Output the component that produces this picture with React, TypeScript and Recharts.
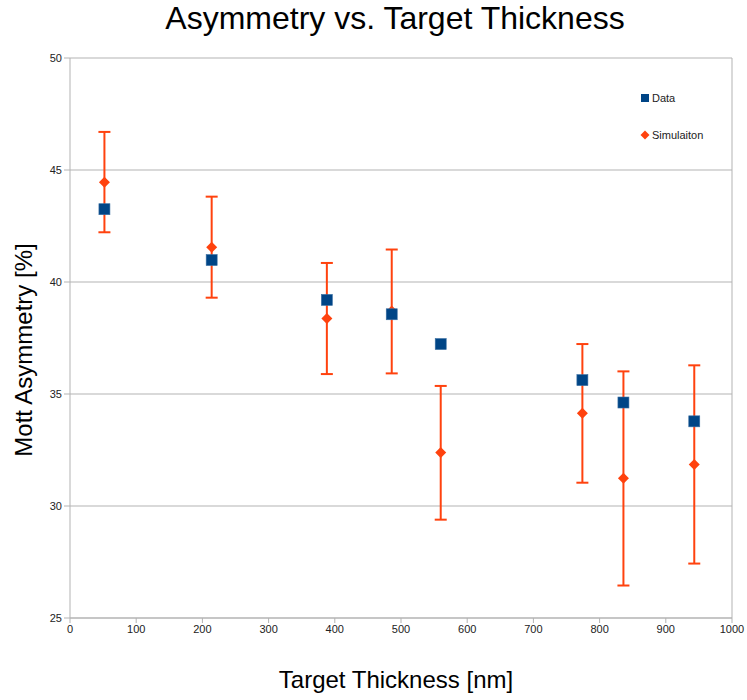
import React from 'react';
import { ScatterChart, Scatter, XAxis, YAxis, CartesianGrid, ErrorBar, ReferenceLine } from 'recharts';

const thickness = [52, 214, 388, 486, 560, 774, 836, 943];
const dataAsym = [43.25, 40.98, 39.2, 38.56, 37.23, 35.62, 34.62, 33.78];
const simAsym = [44.45, 41.55, 38.37, 38.7, 32.39, 34.14, 31.24, 31.85];
const simErrLow = [2.23, 2.25, 2.48, 2.78, 3.0, 3.1, 4.79, 4.42];
const simErrHigh = [2.25, 2.26, 2.48, 2.75, 2.97, 3.09, 4.77, 4.43];
const xTicks = [0, 100, 200, 300, 400, 500, 600, 700, 800, 900, 1000];
const yTicks = [25, 30, 35, 40, 45, 50];

const dataSeries = thickness.map((x, i) => ({ x, y: dataAsym[i] }));
const simSeries = thickness.map((x, i) => ({ x, y: simAsym[i], err: [simErrLow[i], simErrHigh[i]] }));

const BLUE = '#004586';
const ORANGE = '#ff420e';
const FONT = '"Liberation Sans", Arial, sans-serif';

const SquareShape = (props: any) => {
  const { cx, cy } = props;
  const s = 11;
  return <rect x={cx - s / 2} y={cy - s / 2} width={s} height={s} fill={BLUE} stroke="#3a6fa3" strokeWidth={0.6} />;
};

const DiamondShape = (props: any) => {
  const { cx, cy } = props;
  const r = 5.5;
  return <polygon points={`${cx},${cy - r} ${cx + r},${cy} ${cx},${cy + r} ${cx - r},${cy}`} fill={ORANGE} />;
};

const LegendBox = () => (
  <div style={{ position: 'absolute', left: 640, top: 90, fontFamily: FONT, fontSize: 11, color: '#222' }}>
    <div style={{ display: 'flex', alignItems: 'center', height: 16 }}>
      <svg width={10} height={10} style={{ marginRight: 2 }}>
        <rect x={1} y={1} width={8} height={8} fill={BLUE} />
      </svg>
      <span>Data</span>
    </div>
    <div style={{ height: 21 }} />
    <div style={{ display: 'flex', alignItems: 'center', height: 16 }}>
      <svg width={10} height={10} style={{ marginRight: 2 }}>
        <polygon points="5,0.5 9.5,5 5,9.5 0.5,5" fill={ORANGE} />
      </svg>
      <span>Simulaiton</span>
    </div>
  </div>
);

export default function App() {
  return (
    <div style={{ position: 'absolute', left: 0, top: 0, width: 747, height: 700, background: '#fff' }}>
      <ScatterChart width={747} height={700} margin={{ top: 58, right: 15, bottom: 52, left: 0 }}>
        <CartesianGrid vertical={false} stroke="#b3b3b3" />
        <XAxis
          type="number"
          dataKey="x"
          domain={[0, 1000]}
          ticks={xTicks}
          interval={0}
          stroke="#b3b3b3"
          tickSize={5}
          tick={{ fill: '#222', fontSize: 11, fontFamily: FONT }}
          label={{
            content: () => (
              <text x={396} y={688} textAnchor="middle" fontFamily={FONT} fontSize={24} fill="#000">
                Target Thickness [nm]
              </text>
            ),
          }}
        />
        <YAxis
          type="number"
          dataKey="y"
          domain={[25, 50]}
          ticks={yTicks}
          interval={0}
          width={70}
          stroke="#b3b3b3"
          tickSize={6}
          tick={{ fill: '#222', fontSize: 11, fontFamily: FONT }}
          label={{
            content: () => (
              <text x={32} y={350} transform="rotate(-90 32 350)" textAnchor="middle" fontFamily={FONT} fontSize={24} fill="#000">
                Mott Asymmetry [%]
              </text>
            ),
          }}
        />
        <ReferenceLine x={1000} stroke="#b3b3b3" />
        <Scatter name="Simulaiton" data={simSeries} fill={ORANGE} shape={<DiamondShape />} isAnimationActive={false}>
          <ErrorBar dataKey="err" direction="y" width={6} stroke={ORANGE} strokeWidth={2} />
        </Scatter>
        <Scatter name="Data" data={dataSeries} fill={BLUE} shape={<SquareShape />} isAnimationActive={false} />
      </ScatterChart>
      <div style={{ position: 'absolute', left: 0, top: 0, width: 790, textAlign: 'center', fontFamily: FONT, fontSize: 32, color: '#000' }}>
        Asymmetry vs. Target Thickness
      </div>
      <LegendBox />
    </div>
  );
}
